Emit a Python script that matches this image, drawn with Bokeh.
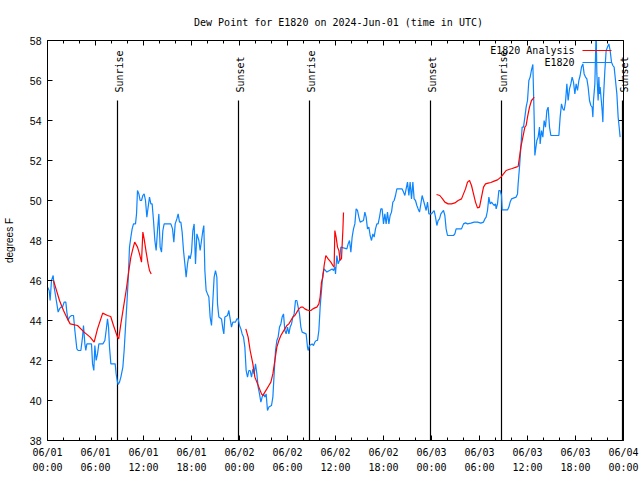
import math
from bokeh.plotting import figure
from bokeh.models import Range1d, FixedTicker, LinearAxis, Label, ColumnDataSource
from bokeh.embed import file_html
from bokeh.resources import INLINE

# ---------------- data (hours since 2024-06-01 00:00 UTC) ----------------
obs_hours = [0.0, 0.21, 0.33, 0.5, 0.71, 0.83, 1.0, 1.17, 1.33, 1.5, 1.67, 1.88, 2.08, 2.29, 2.42, 2.58, 2.75, 3.0, 3.25, 3.42,
             3.67, 3.83, 4.17, 4.38, 4.5, 4.67, 4.79, 4.92, 5.5, 5.63, 5.79, 5.92, 6.08, 6.25, 6.42, 6.92, 7.17, 7.33, 7.5, 7.63,
             7.75, 7.92, 8.46, 8.58, 8.71, 8.83, 9.0, 9.17, 9.42, 9.58, 9.75, 9.92, 10.08, 10.25, 10.42, 10.58, 10.75, 11.0, 11.13, 11.25,
             11.42, 11.58, 11.75, 11.92, 12.08, 12.25, 12.42, 12.58, 12.75, 12.92, 13.08, 13.25, 13.42, 13.58, 13.75, 13.92, 14.08, 14.25, 14.42, 14.58,
             15.42, 15.63, 15.79, 15.96, 16.17, 16.33, 16.5, 16.67, 16.83, 17.0, 17.17, 17.33, 17.5, 17.67, 17.83, 18.0, 18.17, 18.33, 18.5, 18.67,
             18.92, 19.08, 19.25, 19.42, 19.54, 19.67, 19.83, 20.0, 20.17, 20.33, 20.5, 20.67, 20.83, 21.0, 21.17, 21.25, 21.42, 21.75, 21.92, 22.04,
             22.17, 22.5, 22.67, 22.83, 23.0, 23.17, 23.5, 23.67, 23.83, 24.0, 24.17, 24.33, 24.5, 24.67, 24.83, 25.0, 25.17, 25.33, 25.5, 25.67,
             25.83, 26.0, 26.17, 26.33, 26.5, 26.67, 26.83, 27.0, 27.17, 27.33, 27.5, 27.67, 28.0, 28.17, 28.33, 28.5, 28.67, 28.83, 29.0, 29.17,
             29.33, 29.5, 29.67, 29.83, 30.0, 30.17, 30.33, 30.5, 30.67, 30.83, 31.0, 31.17, 31.33, 31.5, 31.67, 31.83, 32.33, 32.5, 32.58, 32.75,
             33.08, 33.25, 33.42, 33.58, 33.75, 33.92, 34.08, 34.25, 34.42, 34.58, 34.92, 35.25, 35.58, 35.75, 35.92, 36.0, 36.17, 36.33, 36.5, 36.67,
             37.0, 37.42, 37.58, 37.75, 37.92, 38.08, 38.25, 38.42, 38.58, 38.75, 38.92, 39.08, 39.5, 39.67, 39.83, 40.0, 40.17, 40.33, 40.5, 40.67,
             40.83, 41.0, 41.17, 41.33, 41.5, 41.67, 41.83, 42.0, 42.17, 42.33, 42.5, 42.67, 42.83, 43.0, 43.17, 43.33, 43.5, 43.67, 44.33, 44.5,
             44.67, 44.83, 45.0, 45.17, 45.33, 45.5, 45.67, 45.83, 46.0, 46.17, 46.33, 46.5, 46.67, 46.83, 47.0, 47.17, 47.33, 47.5, 47.67, 48.0,
             48.17, 48.33, 48.5, 48.67, 48.83, 49.0, 49.17, 49.33, 49.5, 49.67, 49.83, 50.0, 50.75, 50.92, 51.08, 51.75, 52.0, 52.25, 52.5, 52.92,
             53.33, 53.75, 54.17, 54.5, 54.67, 54.83, 55.0, 55.17, 55.33, 55.5, 55.67, 55.83, 56.0, 56.08, 56.25, 56.42, 56.58, 56.75, 56.83, 57.5,
             57.67, 57.83, 58.0, 58.58, 58.75, 58.83, 59.0, 59.17, 59.33, 59.5, 59.67, 59.83, 60.0, 60.17, 60.33, 60.5, 60.67, 60.83, 60.92, 61.0,
             61.17, 61.33, 61.5, 61.58, 61.75, 61.92, 62.08, 62.25, 62.42, 62.58, 62.75, 62.92, 63.92, 64.08, 64.25, 64.42, 64.58, 64.75, 64.92, 65.08,
             65.25, 65.42, 65.58, 65.75, 65.92, 66.08, 66.25, 66.42, 66.58, 66.75, 66.92, 67.08, 67.25, 67.42, 67.58, 67.75, 67.92, 68.08, 68.17, 68.25,
             68.42, 68.58, 68.67, 68.83, 68.92, 69.0, 69.08, 69.17, 69.33, 69.42, 69.5, 69.67, 69.83, 70.0, 70.17, 70.33, 70.5, 70.67, 70.83, 71.0,
             71.17, 71.33, 71.5, 71.58]
obs_dewpoint = [45.67, 45.5, 45.0, 46.0, 46.25, 45.67, 45.25, 44.83, 44.42, 44.58, 44.67, 44.67, 44.92, 44.92, 44.42, 44.0, 44.17, 44.25, 44.25, 43.5,
                42.58, 42.5, 42.5, 43.17, 43.75, 42.83, 42.5, 42.83, 42.83, 41.83, 41.5, 42.75, 42.0, 42.33, 42.83, 42.83, 43.0, 43.5, 44.08, 43.67,
                42.67, 41.83, 41.83, 41.33, 41.0, 40.8, 40.92, 41.17, 41.67, 42.5, 43.67, 44.83, 46.0, 47.67, 48.17, 48.58, 48.83, 48.83, 49.33, 50.5,
                50.33, 50.0, 50.0, 50.25, 50.33, 50.0, 49.17, 49.67, 50.17, 49.83, 49.83, 49.0, 48.0, 47.5, 48.5, 49.33, 47.67, 47.42, 48.5, 48.83,
                48.83, 48.58, 47.92, 48.83, 49.08, 49.33, 48.92, 48.92, 48.42, 47.5, 46.83, 46.17, 46.83, 47.25, 47.08, 47.42, 48.5, 48.83, 46.83, 48.33,
                48.0, 47.5, 48.0, 48.5, 48.75, 46.5, 45.5, 45.33, 45.17, 44.17, 43.75, 45.0, 46.17, 46.5, 46.17, 44.83, 44.17, 44.08, 43.58, 43.33,
                44.17, 44.25, 44.5, 44.08, 43.67, 43.92, 43.92, 44.08, 44.08, 43.75, 43.58, 43.33, 43.17, 42.67, 41.5, 41.17, 41.5, 41.5, 41.17, 41.58,
                41.33, 41.83, 41.33, 40.67, 40.33, 39.92, 40.17, 40.33, 40.17, 40.33, 39.5, 39.67, 39.75, 40.17, 41.33, 42.5, 43.0, 43.17, 43.67, 43.83,
                44.17, 44.33, 43.5, 43.33, 43.67, 43.33, 43.67, 43.83, 44.17, 44.33, 45.0, 45.0, 44.67, 44.33, 43.67, 43.42, 43.33, 42.67, 42.5, 42.75,
                42.83, 42.75, 42.92, 43.0, 43.0, 43.5, 44.67, 45.5, 46.33, 46.58, 46.42, 46.5, 46.58, 46.5, 46.67, 46.33, 47.25, 46.83, 47.0, 47.67,
                47.63, 47.58, 47.83, 48.0, 47.42, 48.17, 48.58, 48.83, 49.58, 49.5, 49.17, 48.92, 49.0, 49.42, 49.17, 48.58, 48.67, 48.25, 48.0, 48.33,
                48.17, 48.58, 48.83, 48.83, 49.17, 49.58, 49.58, 48.83, 49.33, 48.83, 49.42, 48.83, 49.25, 49.42, 49.92, 50.0, 50.25, 50.58, 50.58, 50.42,
                50.25, 50.58, 50.92, 50.25, 50.92, 50.08, 50.92, 50.08, 50.0, 49.75, 49.58, 49.42, 49.83, 50.25, 50.0, 49.75, 49.5, 49.92, 49.33, 49.33,
                49.42, 49.5, 49.17, 48.75, 49.0, 49.08, 49.33, 49.42, 49.5, 49.25, 48.58, 48.25, 48.25, 48.33, 48.58, 48.58, 48.83, 48.88, 48.83, 48.87,
                48.92, 48.92, 48.87, 48.92, 49.08, 49.17, 49.5, 50.17, 49.83, 49.92, 49.83, 49.75, 49.83, 49.58, 49.83, 50.5, 50.5, 50.25, 49.53, 49.53,
                49.67, 49.92, 50.08, 50.17, 50.33, 50.83, 51.67, 52.67, 53.67, 53.67, 54.17, 54.67, 55.0, 56.0, 56.17, 56.53, 56.8, 54.17, 52.25, 52.5,
                53.0, 53.17, 53.67, 52.83, 53.5, 53.17, 54.0, 53.67, 54.5, 54.67, 53.67, 53.25, 53.25, 54.17, 54.83, 54.58, 54.5, 54.92, 55.83, 55.0,
                55.58, 55.83, 56.17, 55.92, 55.33, 55.83, 55.5, 56.0, 56.25, 56.67, 56.83, 56.33, 56.17, 56.08, 55.67, 55.0, 54.75, 54.67, 54.17, 55.0,
                55.83, 58.5, 56.33, 55.0, 56.17, 55.33, 55.67, 55.25, 54.5, 53.92, 55.17, 56.5, 57.5, 57.67, 57.83, 57.5, 56.92, 56.75, 56.67, 56.0,
                55.33, 54.17, 53.5, 53.17]

ana_hours_1 = [0.75, 1.0, 1.5, 2.0, 2.5, 2.83, 3.75, 4.58, 5.33, 5.83, 6.25, 6.9, 7.5, 7.9, 8.25, 8.75, 8.9, 9.17, 9.5, 9.83,
               10.17, 10.42, 10.67, 10.9, 11.25, 11.5, 11.75, 11.92, 12.08, 12.33, 12.58, 12.75, 12.96]
ana_dewpoint_1 = [46.0, 45.67, 45.0, 44.5, 44.08, 43.83, 43.75, 43.42, 43.17, 42.92, 43.58, 44.37, 44.25, 44.2, 43.75, 43.17, 43.08, 43.83, 44.67, 45.5,
                  46.5, 47.17, 47.58, 47.92, 47.67, 47.33, 46.92, 48.42, 48.08, 47.42, 46.83, 46.5, 46.33]
ana_hours_2 = [24.79, 25.08, 25.33, 25.5, 25.67, 25.92, 26.17, 26.42, 26.75, 26.92, 27.17, 27.42, 27.67, 27.92, 28.17, 28.42, 28.67, 28.92, 29.17, 29.42,
               29.67, 29.92, 30.17, 30.42, 30.67, 30.92, 31.17, 31.42, 31.67, 31.92, 32.17, 32.42, 32.67, 32.92, 33.17, 33.42, 33.67, 33.92, 34.08, 34.25,
               34.42, 34.58, 34.79, 35.08, 35.42, 35.67, 35.83, 35.92, 36.08, 36.25, 36.42, 36.58, 36.75, 36.92, 37.0]
ana_dewpoint_2 = [43.58, 43.17, 42.5, 42.17, 41.83, 41.17, 40.92, 40.67, 40.33, 40.25, 40.42, 40.58, 40.75, 40.92, 41.33, 42.0, 42.67, 43.0, 43.25, 43.42,
                  43.58, 43.75, 43.83, 44.0, 44.17, 44.25, 44.42, 44.58, 44.67, 44.67, 44.58, 44.53, 44.5, 44.5, 44.58, 44.63, 44.67, 44.83, 45.17, 45.92,
                  46.17, 46.75, 47.25, 47.08, 46.92, 46.75, 46.67, 48.5, 48.17, 47.67, 47.5, 47.0, 47.1, 48.5, 49.4]
ana_hours_3 = [48.63, 49.04, 49.38, 49.67, 50.08, 50.5, 50.92, 51.33, 51.75, 52.0, 52.25, 52.5, 52.75, 53.0, 53.25, 53.5, 53.75, 54.0, 54.25, 54.5,
               54.75, 55.08, 55.42, 55.83, 56.25, 56.67, 57.0, 57.33, 57.67, 58.08, 58.58, 58.83, 59.0, 59.17, 59.42, 59.67, 59.83, 60.0, 60.25, 60.5,
               60.67, 60.83]
ana_dewpoint_3 = [50.3, 50.25, 50.08, 49.92, 49.83, 49.83, 49.88, 50.0, 50.08, 50.33, 50.58, 50.92, 51.0, 50.75, 50.33, 49.92, 49.63, 49.67, 50.17, 50.67,
                  50.83, 50.87, 50.9, 50.97, 51.03, 51.17, 51.33, 51.5, 51.55, 51.6, 51.67, 51.7, 52.17, 52.67, 53.17, 53.67, 53.75, 54.17, 54.67, 55.0,
                  55.08, 55.17]

sun_events = ["Sunrise", "Sunset", "Sunrise", "Sunset", "Sunrise", "Sunset"]
sun_hours = [8.75, 23.875, 32.75, 47.875, 56.75, 71.875]

x_ticks = [0, 6, 12, 18, 24, 30, 36, 42, 48, 54, 60, 66, 72]
x_tick_labels = ["06/01\n00:00", "06/01\n06:00", "06/01\n12:00", "06/01\n18:00",
                 "06/02\n00:00", "06/02\n06:00", "06/02\n12:00", "06/02\n18:00",
                 "06/03\n00:00", "06/03\n06:00", "06/03\n12:00", "06/03\n18:00",
                 "06/04\n00:00"]
x_minor_ticks = list(range(0, 73, 2))
y_ticks = [38, 40, 42, 44, 46, 48, 50, 52, 54, 56, 58]

title_text = "Dew Point for E1820 on 2024-Jun-01 (time in UTC)"
y_label = "degrees F"
series_names = ["E1820 Analysis", "E1820"]

# ---------------- styling ----------------
BLUE = "#0a84ff"
RED = "#ff0000"
MONO = "DejaVu Sans Mono"
SANS = "Liberation Sans"
X0, X1 = x_ticks[0], x_ticks[-1]
Y0, Y1 = y_ticks[0], y_ticks[-1]
PX_PER_HOUR = 8.0          # 576 px for 72 h
PAD_HOURS = 0.75           # extra room right of the axis so the last label is not cut
TICK_PX = 5

p = figure(frame_width=int((X1 - X0 + PAD_HOURS) * PX_PER_HOUR), frame_height=400,
           output_backend="svg", toolbar_location=None,
           x_range=Range1d(X0, X1 + PAD_HOURS), y_range=Range1d(Y0, Y1),
           min_border_left=46, min_border_right=10, min_border_top=40, min_border_bottom=38,
           background_fill_color="white", border_fill_color="white",
           title=title_text)
p.title.align = "center"
p.title.offset = -3
p.title.text_font = MONO
p.title.text_font_size = "10px"
p.title.text_font_style = "normal"
p.title.text_color = "black"
p.title.standoff = 26

p.xgrid.visible = False
p.ygrid.visible = False
p.outline_line_color = None

xa = p.xaxis[0]
xa.ticker = FixedTicker(ticks=x_ticks, minor_ticks=x_minor_ticks)
xa.bounds = (X0, X1)
xa.major_label_overrides = {t: l for t, l in zip(x_ticks, x_tick_labels)}
xa.major_label_text_font = MONO
xa.major_label_text_font_size = "10px"
xa.major_label_text_color = "black"
xa.major_label_text_line_height = 1.45
xa.major_label_standoff = 6

ya = p.yaxis[0]
ya.ticker = FixedTicker(ticks=y_ticks, minor_ticks=[])
ya.major_label_text_font = SANS
ya.major_label_text_font_size = "10.5px"
ya.major_label_text_color = "black"
ya.major_label_standoff = 6
ya.axis_label = y_label
ya.axis_label_text_font = SANS
ya.axis_label_text_font_size = "10px"
ya.axis_label_text_font_style = "normal"
ya.axis_label_text_color = "black"
ya.axis_label_standoff = 12

top_axis = LinearAxis(ticker=FixedTicker(ticks=x_ticks, minor_ticks=x_minor_ticks),
                      major_label_overrides={t: "" for t in x_ticks}, major_label_standoff=0,
                      major_label_text_font_size="1px", bounds=(X0, X1))
p.add_layout(top_axis, "above")

for ax in [xa, ya, top_axis]:
    ax.axis_line_color = "black"
    ax.axis_line_width = 1
    ax.major_tick_in = TICK_PX
    ax.major_tick_out = 0
    ax.minor_tick_in = 3
    ax.minor_tick_out = 0
    ax.major_tick_line_color = "black"
    ax.minor_tick_line_color = "black"

# right border of the plot box with inward ticks (mirrors the left axis)
p.segment(x0=[X1], y0=[Y0], x1=[X1], y1=[Y1], line_color="black", line_width=1)
p.segment(x0=[X1 - TICK_PX / PX_PER_HOUR] * len(y_ticks), y0=y_ticks,
          x1=[X1] * len(y_ticks), y1=y_ticks, line_color="black", line_width=1)

# sunrise / sunset markers
sun_src = ColumnDataSource(dict(x=sun_hours, y0=[Y0] * len(sun_hours), y1=[55.0] * len(sun_hours)))
p.segment(x0="x", y0="y0", x1="x", y1="y1", source=sun_src, line_color="black", line_width=1.2)
for name, h in zip(sun_events, sun_hours):
    p.add_layout(Label(x=h, y=55.4, text=name, angle=math.pi / 2, text_align="left",
                       text_baseline="middle", x_offset=1.5, text_font=MONO,
                       text_font_size="10px", text_color="black"))

# data
p.line(obs_hours, obs_dewpoint, line_color=BLUE, line_width=1.2)
for hs, vs in [(ana_hours_1, ana_dewpoint_1), (ana_hours_2, ana_dewpoint_2), (ana_hours_3, ana_dewpoint_3)]:
    p.line(hs, vs, line_color=RED, line_width=1.2)

# legend (gnuplot style: text left, sample right)
p.segment(x0=[66.875, 66.875], y0=[57.5, 56.9], x1=[70.5, 70.5], y1=[57.5, 56.9],
          line_color=[RED, BLUE], line_width=1.2)
for name, yy in zip(series_names, [57.5, 56.9]):
    p.add_layout(Label(x=65.875, y=yy, text=name, text_align="right", text_baseline="middle",
                       text_font=MONO, text_font_size="10px", text_color="black"))

open("out.html", "w").write(file_html(p, INLINE))
